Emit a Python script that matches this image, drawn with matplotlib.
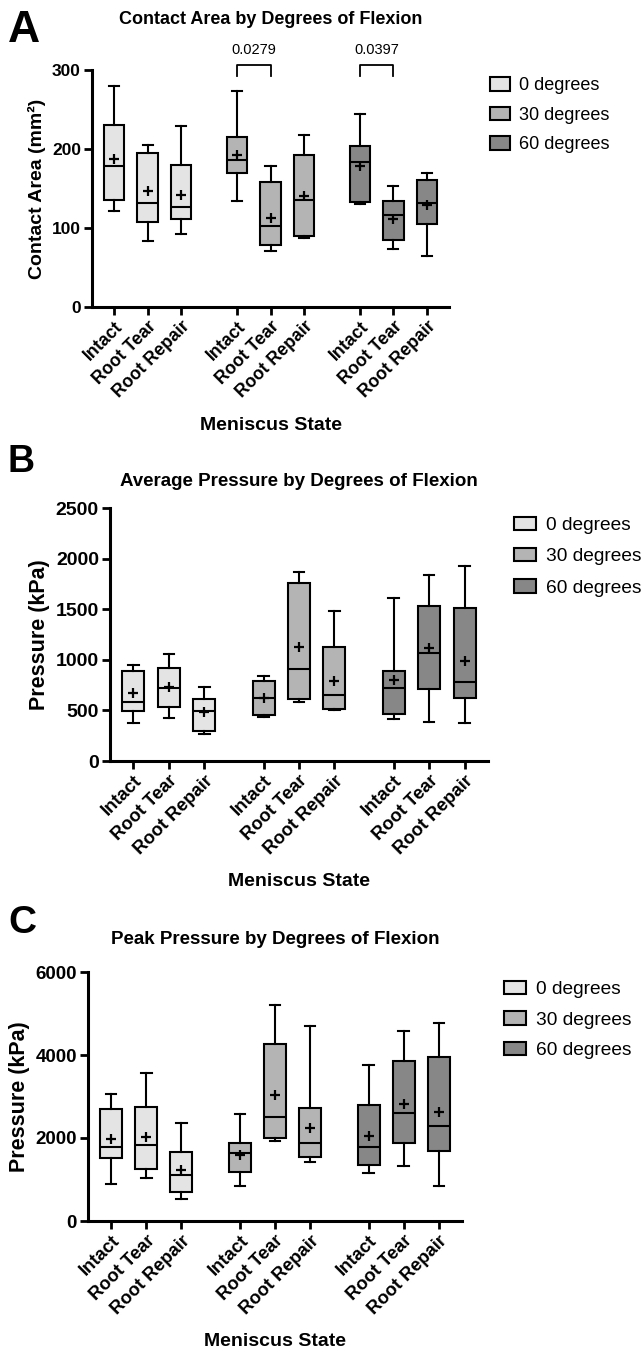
import matplotlib
matplotlib.use('Agg')
import matplotlib.pyplot as plt
from matplotlib.patches import Patch
import numpy as np

# ======================
# DATA
# ======================

states = ['Intact', 'Root Tear', 'Root Repair']
flexions = ['0 degrees', '30 degrees', '60 degrees']
x_labels = states * 3

# Contact area (mm2) - order: 0 deg (Intact, Tear, Repair), 30 deg (...), 60 deg (...)
area_low = [121, 84, 93, 134, 71, 87, 131, 74, 65]
area_q1 = [136, 107, 111, 169, 79, 90, 133, 85, 105]
area_med = [178, 132, 127, 186, 103, 135, 184, 116, 132]
area_q3 = [231, 195, 180, 215, 158, 193, 204, 134, 161]
area_high = [280, 205, 229, 273, 178, 218, 244, 153, 169]
area_mean = [187, 147, 142, 193, 113, 141, 179, 111, 129]

# Average pressure (kPa)
avg_low = [372, 428, 263, 438, 583, 501, 415, 389, 372]
avg_q1 = [497, 530, 293, 451, 613, 517, 468, 715, 626]
avg_med = [586, 721, 497, 619, 909, 649, 725, 1064, 781]
avg_q3 = [889, 919, 609, 790, 1756, 1130, 889, 1532, 1515]
avg_high = [949, 1060, 734, 843, 1871, 1479, 1611, 1838, 1923]
avg_mean = [675, 728, 481, 626, 1130, 790, 804, 1113, 991]

# Peak pressure (kPa)
peak_low = [884, 1028, 530, 835, 1936, 1414, 1157, 1334, 835]
peak_q1 = [1518, 1261, 699, 1173, 2008, 1542, 1341, 1871, 1679]
peak_med = [1775, 1832, 1100, 1647, 2514, 1888, 1783, 2595, 2298]
peak_q3 = [2699, 2755, 1671, 1871, 4274, 2723, 2796, 3864, 3944]
peak_high = [3068, 3567, 2362, 2570, 5206, 4700, 3760, 4587, 4780]
peak_mean = [1968, 2016, 1221, 1599, 3028, 2250, 2040, 2812, 2635]

# significance brackets in panel A: (box index from, box index to, p-value text)
area_sig = [(3, 4, '0.0279'), (6, 7, '0.0397')]

# ======================
# STYLE
# ======================

plt.rcParams['font.family'] = ['Liberation Sans', 'DejaVu Sans']
colors = ['#E4E4E4', '#B4B4B4', '#878787']
group_step = 3.67
positions = np.array([g * group_step + i for g in range(3) for i in range(3)])
box_colors = [colors[g] for g in range(3) for i in range(3)]
LW = 1.5


def draw_panel(ax, low, q1, med, q3, high, mean, ymax, ystep, ylabel, title,
               tick_fs, label_fs, title_fs, title_pad, xtick_fs):
    stats = []
    for k in range(len(low)):
        stats.append(dict(whislo=low[k], q1=q1[k], med=med[k], q3=q3[k],
                          whishi=high[k], mean=mean[k], fliers=[]))
    bp = ax.bxp(stats, positions=positions, widths=0.62, capwidths=0.3,
                patch_artist=True, showmeans=True, showfliers=False,
                boxprops=dict(edgecolor='black', linewidth=LW),
                whiskerprops=dict(color='black', linewidth=LW),
                capprops=dict(color='black', linewidth=LW),
                medianprops=dict(color='black', linewidth=LW),
                meanprops=dict(marker='+', markeredgecolor='black',
                               markersize=7, markeredgewidth=1.6))
    for patch, c in zip(bp['boxes'], box_colors):
        patch.set_facecolor(c)

    ax.set_xlim(positions[0] - 0.66, positions[-1] + 0.66)
    ax.set_ylim(0, ymax)
    ax.set_yticks(np.arange(0, ymax + 1, ystep))
    ax.set_xticks(positions)
    ax.set_xticklabels(x_labels, rotation=45, ha='right', rotation_mode='anchor',
                       fontsize=xtick_fs, fontweight='bold')
    for lab in ax.get_yticklabels():
        lab.set_fontweight('bold')
        lab.set_fontsize(tick_fs)
    ax.spines['top'].set_visible(False)
    ax.spines['right'].set_visible(False)
    ax.spines['left'].set_linewidth(2.2)
    ax.spines['bottom'].set_linewidth(2.2)
    ax.tick_params(direction='out', length=6, width=2.0, pad=2)
    ax.set_ylabel(ylabel, fontsize=label_fs, fontweight='bold')
    ax.set_xlabel('Meniscus State', fontsize=14, fontweight='bold', labelpad=11)
    ax.set_title(title, fontsize=title_fs, fontweight='bold', pad=title_pad)


def add_legend(ax, x, y, fs, hl, hh, spacing):
    handles = [Patch(facecolor=c, edgecolor='black', linewidth=LW, label=l)
               for c, l in zip(colors, flexions)]
    ax.legend(handles=handles, loc='upper left', bbox_to_anchor=(x, y),
              frameon=False, fontsize=fs, handlelength=hl, handleheight=hh,
              handletextpad=0.5, labelspacing=spacing, borderpad=0,
              borderaxespad=0)


def generate_graph():
    fig = plt.figure(figsize=(6.44, 13.5), dpi=100)
    W, H = 644.0, 1350.0

    # axes boxes in pixels: left, right, top, bottom
    ax_a = fig.add_axes([92 / W, 1 - 307 / H, (449 - 92) / W, (307 - 70) / H])
    ax_b = fig.add_axes([110 / W, 1 - 761 / H, (488 - 110) / W, (761 - 508) / H])
    ax_c = fig.add_axes([88 / W, 1 - 1221 / H, (462 - 88) / W, (1221 - 972) / H])

    draw_panel(ax_a, area_low, area_q1, area_med, area_q3, area_high, area_mean,
               300, 100, 'Contact Area (mm²)', 'Contact Area by Degrees of Flexion',
               12.5, 14, 13, 33, 12.8)
    draw_panel(ax_b, avg_low, avg_q1, avg_med, avg_q3, avg_high, avg_mean,
               2500, 500, 'Pressure (kPa)', 'Average Pressure by Degrees of Flexion',
               14, 15.5, 13.5, 16, 13.2)
    draw_panel(ax_c, peak_low, peak_q1, peak_med, peak_q3, peak_high, peak_mean,
               6000, 2000, 'Pressure (kPa)', 'Peak Pressure by Degrees of Flexion',
               13.5, 15.5, 13.5, 20, 13.2)

    # significance brackets
    for i0, i1, txt in area_sig:
        x0, x1 = positions[i0], positions[i1]
        ax_a.plot([x0, x0, x1, x1], [292, 306, 306, 292], color='black',
                  linewidth=1.3, clip_on=False)
        ax_a.text((x0 + x1) / 2, 316, txt, ha='center', va='bottom',
                  fontsize=10.5, clip_on=False)

    add_legend(ax_a, 1.115, 0.97, 13, 1.1, 0.8, 0.68)
    add_legend(ax_b, 1.069, 0.965, 13.8, 1.15, 0.7, 0.72)
    add_legend(ax_c, 1.112, 0.965, 13.8, 1.15, 0.7, 0.68)

    # panel letters
    fig.text(8 / W, 1 - 10 / H, 'A', fontsize=32, fontweight='bold', va='top')
    fig.text(8 / W, 1 - 444 / H, 'B', fontsize=27, fontweight='bold', va='top')
    fig.text(8 / W, 1 - 905 / H, 'C', fontsize=28, fontweight='bold', va='top')

    plt.savefig('out.png', dpi=100)


if __name__ == '__main__':
    generate_graph()
